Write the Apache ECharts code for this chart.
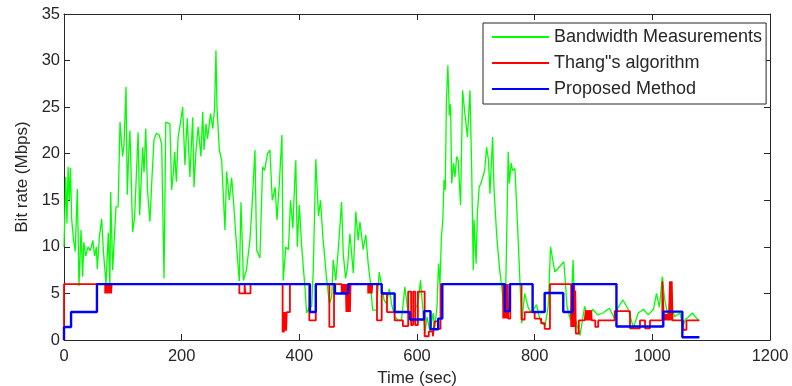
<!DOCTYPE html>
<html>
<head>
<meta charset="utf-8">
<script src="https://cdn.jsdelivr.net/npm/echarts@6/dist/echarts.min.js"></script>
<style>
  html, body { margin: 0; padding: 0; background: #fff; }
  #chart { width: 792px; height: 386px; }
</style>
</head>
<body>
<div id="chart"></div>
<script>
// Measured available bandwidth over time, [time (s), Mbps]
const bandwidth = [
  [0,10.0],[3,17.5],[5,12.5],[7,18.6],[9,15.0],[11,18.5],[13,13],[15.8,11],[19,9.5],[22.7,16.2],
  [25.5,5.8],[28.9,11.8],[31.7,6.8],[33.6,10.5],[37,9],[40.8,10],[44.7,9.6],[49,10.7],[52,9],[55,10],
  [56.6,7.6],[60,11],[64,13],[67,9.5],[71.4,6.0],[75.3,11.5],[78,5.7],[79.3,15.9],[82.7,7.5],[88.4,14.3],
  [92,14.3],[95.2,23.4],[99.7,19.7],[102,21],[105.4,27.2],[107.6,15.6],[110,20],[112,22.5],[114,18],[116.7,11.6],
  [120,13.2],[126,22.3],[128.6,13.4],[133.7,20.7],[136,18],[139,22.7],[142,16],[146,12.7],[150,18],[153,21.5],
  [157,22.2],[162,22],[166,21],[170,6.6],[173,23.4],[180,23.2],[183,16.1],[186,18],[188,20.2],[191,17],
  [194,21.8],[197,22.9],[201.7,25.0],[205.6,18.8],[209.5,23.8],[214,17.5],[218.7,23.9],[221,16.4],[224,20],[228,22.9],
  [232.8,19.7],[235.7,24.5],[238,20.4],[241.5,23.2],[244,21.6],[249,24.3],[253,22.7],[256,25],[258.3,31.1],[260,25],
  [264,20.4],[268,19.3],[273.6,11.8],[276.4,18.1],[281,15.0],[285,17.4],[288,15.0],[293.4,10.0],[298,6.3],[300.8,14.8],
  [305,6.4],[310,7.5],[316,10.7],[320,14.8],[324.6,20.4],[327.4,9.7],[333,8.8],[337.6,18.6],[341,18.2],[346,20],
  [350,20.4],[354,15],[359,16.4],[362,12.9],[366,16.8],[370.4,22.0],[372.6,6.4],[377,10],[381.5,9.7],[385,15],
  [389,12],[392.5,17.5],[394,19.3],[396.5,10],[400,14.5],[404,10],[409.5,5.7],[412.4,2.9],[417,3.5],[421,3.6],
  [423.7,7.5],[428,19.4],[432.5,13.3],[436,15.0],[440,11.1],[446,6.8],[451,3.9],[455,4.6],[457.6,8.6],[462,6.4],
  [466.5,10],[471.8,14.8],[474.6,9.3],[478.6,6.6],[482,7.9],[486,11.4],[491.7,7.2],[496,13.8],[500,10.7],[503,12.7],
  [508.5,9.7],[513,11.3],[517,8.2],[521,6.1],[524.6,3.2],[531,3.2],[535.8,7.3],[540,5.7],[544,4.3],[548,3.9],
  [553,5.5],[557,3.8],[562.4,2.5],[568,2.1],[573.6,2.1],[579.4,5.7],[583.4,3.6],[588,2.1],[596.5,3.2],[602,4.1],
  [606,6.4],[609.5,3.6],[613.4,0.7],[617,2.5],[622,0.9],[627.5,2.9],[630,1.2],[634,3.6],[636.6,8.2],[639,6],
  [641.5,11],[644,13],[646,17.2],[648,16.1],[650,25.8],[652.5,29.5],[655,24.1],[657,25.3],[659,16.8],[662,19],
  [664.5,17.5],[667.4,19.7],[670,19.3],[674,14.5],[677.5,26.8],[681,24.5],[685.7,21.8],[690,26.8],[693,18.2],[695.6,7.5],
  [697,12.9],[700.5,8.2],[702.6,13.6],[705.7,16.4],[709.6,17.0],[715,18.2],[718.3,20.7],[721.5,19.3],[724,15.7],[728.5,21.8],
  [731,16.1],[735.6,11.1],[740,7.9],[744.5,5.4],[747.6,3.2],[751,6],[755,20.2],[757,16.8],[760,19],[762.5,18.2],
  [766.5,18.4],[772,10.7],[778,1.8],[783,5],[789,3.5],[794.6,2.9],[803,3.8],[809,2.2],[817.5,1.5],[823,3.6],
  [827,10],[834.3,7.3],[849.6,8.4],[855,3.6],[861,2.1],[865.4,8.6],[868,2.5],[877,0.5],[885,3.6],[891,2.2],
  [899,3.3],[907,2.7],[916,2.9],[927,3.4],[935.6,2.3],[941,3.4],[950,4.3],[959,3.3],[968,1.3],[976,2.9],
  [985,3.3],[993,2.7],[1002,3.3],[1007,5.0],[1012,3.5],[1017,6.8],[1021,4.3],[1027,2.5],[1033,3.5],[1038,2.5],
  [1047,2.9],[1052,1.5],[1056,2.2],[1062,2.5],[1068,2.9],[1073,2.5],[1079,2.1]
];

// Bit rate chosen by Thang's algorithm, [time (s), Mbps], held until the next entry
const thang = [
  [0,1.4],[0,6],
  [70,5],[71,6],[72,5],[73,6],[74,5],[75,6],[76,5],[77,6],[78,5],[79,6],[80,5],[81,6],
  [298,5],[307,6],[308,5],[317,6],
  [371.6,0.8],[372.6,3],[373.6,0.8],[374.6,3],[375.6,1],[376.6,3],[377.6,1],[378.6,3],[384,6],
  [417,2.1],[428,6],
  [451,1.4],[459,6],
  [472,5],[473,6],[474,5],[475,6],[476,5],[477,6],[478,5],[479,6],
  [480,3],[481,6],[482,3],[483,6],[484,3],[485,6],[486,3],[487,6],
  [517,5],[518,6],[519,5],[520,6],[521,5],[522,6],[523,5],[524,6],
  [532,2.1],[540,5],[549,3],[562,2.1],[576,1.5],
  [585,5.2],[590,1.6],[593.5,5.2],[597,1.6],[601.5,5.2],[613,0.4],
  [620,0.9],[627,0.4],[630,2.0],[636,1.2],[640,6],
  [746.5,2.3],[748,6],[749,2.3],[751,6],[752,2.3],[754,6],[755,2.3],[758.6,6],
  [777.7,2.2],[783,3.0],[800,2.3],[811,1.8],[817,1.2],[826,6],
  [862,1.4],[863,6],[864,1.4],[865,6],[866,1.4],[867,6],[868,1.4],[869,5.3],[870,0.7],[875,2.1],
  [885,2.1],[887,3.2],[888,2.1],[890,3.2],[891,2.1],[893,3.2],[894,2.1],[896,3.2],[897,2.1],
  [903,1.4],[908,2.1],[936,3.1],[962,1.25],[979,2.1],[987.6,1.25],[996,2.1],
  [1017,6.3],[1019.5,2.1],[1021,2.8],[1022,2.1],[1023,2.8],[1024,2.1],[1025,2.8],[1026,2.1],[1027,2.8],[1028,2.1],
  [1030,6.3],[1031,2.1],[1031.5,6.3],[1032.5,2.1],[1033,6.3],[1034.4,2.1],
  [1052,1.1],[1058,2.1],[1080,2.1]
];

// Bit rate chosen by the proposed method, [time (s), Mbps], held until the next entry
const proposed = [
  [0,0],[0,1.4],[12,3],[56,6],[418,3],[428,6],[460.5,5],[483,6],[540,5],[562,3],
  [588,2.2],[612,3.1],[623,1.15],[636,2.3],[643,6],[749.4,3.1],[757.8,6],[796.5,3.0],
  [817,5.05],[848.6,3.0],[864.4,6],[939,1.45],[1018.6,3.05],[1051,0.3],[1080,0.3]
];

const seriesNames = ['Bandwidth Measurements', 'Thang"s algorithm', 'Proposed Method'];
const xTicks = { min: 0, max: 1200, interval: 200 };
const yTicks = { min: 0, max: 35, interval: 5 };

const FONT = '"Liberation Sans", Arial, sans-serif';
const INK = '#262626';

const chart = echarts.init(document.getElementById('chart'), null, { renderer: 'canvas' });

const frameAxis = {
  axisLine: { show: true, onZero: false, lineStyle: { color: INK, width: 1 } },
  axisTick: { show: true, inside: true, length: 6, lineStyle: { color: INK } },
  splitLine: { show: false }
};

chart.setOption({
  animation: false,
  backgroundColor: '#fff',
  grid: { left: 64, right: 22, top: 14, bottom: 46, containLabel: false, outerBoundsMode: 'none' },
  legend: {
    orient: 'vertical',
    left: 483,
    top: 23,
    padding: [5, 4, 6, 9],
    itemGap: 8,
    itemWidth: 57,
    itemHeight: 2,
    icon: 'rect',
    borderColor: INK,
    borderWidth: 1,
    backgroundColor: '#fff',
    textStyle: { fontFamily: FONT, fontSize: 18, color: INK, lineHeight: 18 },
    data: seriesNames
  },
  xAxis: [
    Object.assign({
      type: 'value', position: 'bottom',
      min: xTicks.min, max: xTicks.max, interval: xTicks.interval,
      name: 'Time (sec)', nameLocation: 'middle', nameGap: 28,
      nameTextStyle: { fontFamily: FONT, fontSize: 17, color: INK },
      axisLabel: { fontFamily: FONT, fontSize: 16.5, color: INK, margin: 8, formatter: v => String(v) }
    }, frameAxis),
    Object.assign({
      type: 'value', position: 'top',
      min: xTicks.min, max: xTicks.max, interval: xTicks.interval,
      axisLabel: { show: false }
    }, frameAxis)
  ],
  yAxis: [
    Object.assign({
      type: 'value', position: 'left',
      min: yTicks.min, max: yTicks.max, interval: yTicks.interval,
      name: 'Bit rate (Mbps)', nameLocation: 'middle', nameGap: 32,
      nameTextStyle: { fontFamily: FONT, fontSize: 17, color: INK },
      axisLabel: { fontFamily: FONT, fontSize: 16.5, color: INK, margin: 4, formatter: v => String(v) }
    }, frameAxis),
    Object.assign({
      type: 'value', position: 'right',
      min: yTicks.min, max: yTicks.max, interval: yTicks.interval,
      axisLabel: { show: false }
    }, frameAxis)
  ],
  series: [
    {
      name: seriesNames[0], type: 'line', data: bandwidth,
      symbol: 'none', z: 2,
      lineStyle: { color: '#00ff00', width: 1.3 },
      itemStyle: { color: '#00ff00' }
    },
    {
      name: seriesNames[1], type: 'line', data: thang, step: 'end',
      symbol: 'none', z: 3,
      lineStyle: { color: '#ff0000', width: 1.8 },
      itemStyle: { color: '#ff0000' }
    },
    {
      name: seriesNames[2], type: 'line', data: proposed, step: 'end',
      symbol: 'none', z: 4,
      lineStyle: { color: '#0000ff', width: 2.4 },
      itemStyle: { color: '#0000ff' }
    }
  ]
});
</script>
</body>
</html>
